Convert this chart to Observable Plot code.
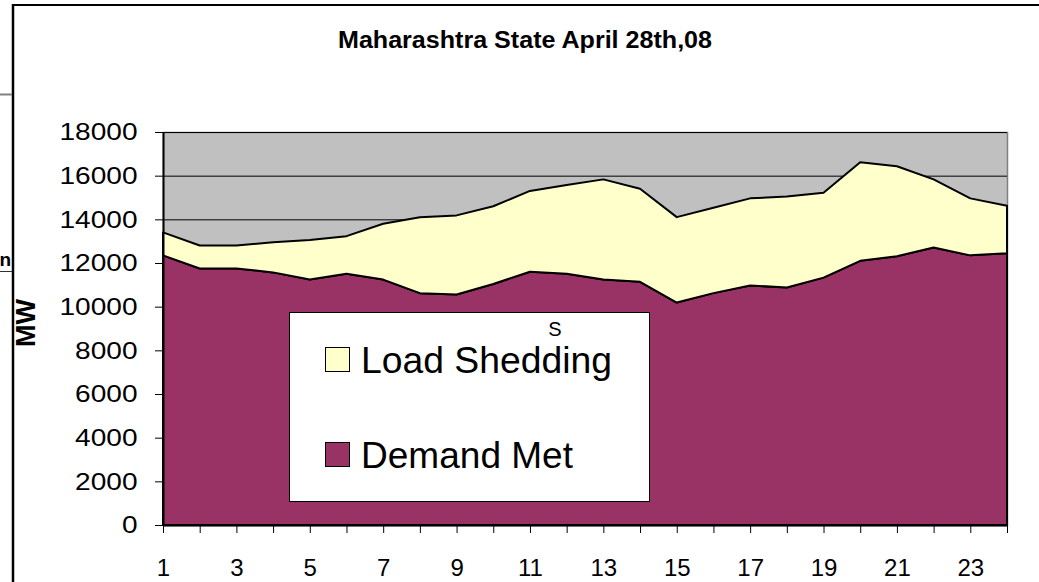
<!DOCTYPE html>
<html>
<head>
<meta charset="utf-8">
<script src="https://cdn.jsdelivr.net/npm/d3@7"></script>
<script src="https://cdn.jsdelivr.net/npm/@observablehq/plot@0.6"></script>
<style>
  body { margin: 0; background: #fff; font-family: "Liberation Sans", Arial, sans-serif; }
  #wrap { position: relative; width: 1039px; height: 582px; overflow: hidden; }
</style>
</head>
<body>
<div id="wrap"></div>
<script>
const title = "Maharashtra State April 28th,08";
const yLabel = "MW";
const hours = [1, 2, 3, 4, 5, 6, 7, 8, 9, 10, 11, 12, 13, 14, 15, 16, 17, 18, 19, 20, 21, 22, 23, 24];
const demandMet = [12350, 11750, 11750, 11570, 11240, 11510, 11240, 10620, 10560, 11040, 11600, 11510,
                   11240, 11140, 10190, 10620, 10970, 10880, 11330, 12100, 12310, 12710, 12350, 12450];
const loadShedding = [1050, 1050, 1050, 1380, 1810, 1720, 2560, 3480, 3620, 3560, 3700, 4060,
                      4590, 4260, 3910, 3910, 3990, 4170, 3890, 4510, 4120, 3120, 2610, 2170];
const seriesNames = ["Load Shedding", "Demand Met"];
const seriesColors = ["#FFFFCC", "#993366"];
const yTicks = [0, 2000, 4000, 6000, 8000, 10000, 12000, 14000, 16000, 18000];
const xTickLabels = [1, 3, 5, 7, 9, 11, 13, 15, 17, 19, 21, 23];

const rows = hours.map((h, i) => ({
  hour: h,
  met: demandMet[i],
  total: demandMet[i] + loadShedding[i]
}));

const chart = Plot.plot({
  width: 1039,
  height: 582,
  marginLeft: 163,
  marginRight: 32,
  marginTop: 132,
  marginBottom: 57,
  style: { fontFamily: "'Liberation Sans', Arial, sans-serif", fontSize: "24px", color: "#000", background: "transparent" },
  x: { domain: [1, 24] },
  y: { domain: [0, 18000] },
  marks: [
    Plot.frame({ fill: "#C0C0C0", stroke: "#808080", strokeWidth: 1.5 }),
    Plot.gridY(yTicks, { stroke: "#000", strokeOpacity: 1, strokeWidth: 1 }),
    Plot.areaY(rows, { x: "hour", y1: 0, y2: "met", fill: seriesColors[1], stroke: "#000", strokeWidth: 2 }),
    Plot.areaY(rows, { x: "hour", y1: "met", y2: "total", fill: seriesColors[0], stroke: "#000", strokeWidth: 2 }),
    Plot.ruleX([1], { stroke: "#000", strokeWidth: 2 }),
    Plot.ruleY([0], { stroke: "#000", strokeWidth: 2 }),
    Plot.axisY(yTicks, { tickSize: 8, tickPadding: 18, fontSize: 24, label: null, stroke: "#000",
      tickFormat: d => String(d) }),
    Plot.axisX(hours, { tickSize: 8, tickPadding: 25, fontSize: 24, label: null, stroke: "#000",
      tickFormat: d => xTickLabels.includes(d) ? String(d) : "" })
  ]
});

document.getElementById("wrap").appendChild(chart);

const svg = d3.select(chart);
// stretch y tick labels to match the reference's wide digits
svg.selectAll('g[aria-label="y-axis tick label"] text').each(function () {
  const t = this.textContent;
  this.setAttribute("textLength", t.length * 15.6);
  this.setAttribute("lengthAdjust", "spacingAndGlyphs");
});

// title
svg.append("text")
  .attr("x", 525).attr("y", 48)
  .attr("text-anchor", "middle")
  .attr("font-weight", "bold")
  .attr("font-size", 23)
  .attr("textLength", 374)
  .attr("lengthAdjust", "spacingAndGlyphs")
  .attr("fill", "#000")
  .text(title);

// y axis label
svg.append("text")
  .attr("transform", "translate(35,323) rotate(-90)")
  .attr("text-anchor", "middle")
  .attr("font-weight", "bold")
  .attr("font-size", 27)
  .attr("fill", "#000")
  .text(yLabel);

// legend box
const lg = svg.append("g").attr("text-anchor", "start");
lg.append("rect").attr("x", 289.5).attr("y", 312.5).attr("width", 360).attr("height", 189)
  .attr("fill", "#fff").attr("stroke", "#000").attr("stroke-width", 1);
const legendItems = [
  { name: seriesNames[0], color: seriesColors[0], y: 347, len: 251 },
  { name: seriesNames[1], color: seriesColors[1], y: 442, len: 212 }
];
legendItems.forEach(it => {
  lg.append("rect").attr("x", 325.5).attr("y", it.y + 0.5).attr("width", 24).attr("height", 24)
    .attr("fill", it.color).attr("stroke", "#000").attr("stroke-width", 1);
  lg.append("text").attr("x", 361).attr("y", it.y + 26).attr("text-anchor", "start")
    .attr("font-size", 36).attr("textLength", it.len).attr("lengthAdjust", "spacingAndGlyphs")
    .attr("fill", "#000").text(it.name);
});
lg.append("text").attr("x", 555).attr("y", 336).attr("text-anchor", "middle")
  .attr("font-size", 20).attr("fill", "#000").text("S");

// fragments of the surrounding frame
const fr = svg.append("g");
fr.append("line").attr("x1", 13).attr("x2", 13).attr("y1", 4).attr("y2", 582).attr("stroke", "#000").attr("stroke-width", 2.5);
fr.append("line").attr("x1", 12).attr("x2", 1039).attr("y1", 5).attr("y2", 5).attr("stroke", "#000").attr("stroke-width", 2);
fr.append("line").attr("x1", 0).attr("x2", 12).attr("y1", 94.5).attr("y2", 94.5).attr("stroke", "#808080").attr("stroke-width", 2);
fr.append("line").attr("x1", 0).attr("x2", 12).attr("y1", 271.5).attr("y2", 271.5).attr("stroke", "#333").attr("stroke-width", 1);
fr.append("text").attr("x", 11).attr("y", 266).attr("text-anchor", "end")
  .attr("font-weight", "bold").attr("font-size", 19).attr("fill", "#000").text("n");
</script>
</body>
</html>
